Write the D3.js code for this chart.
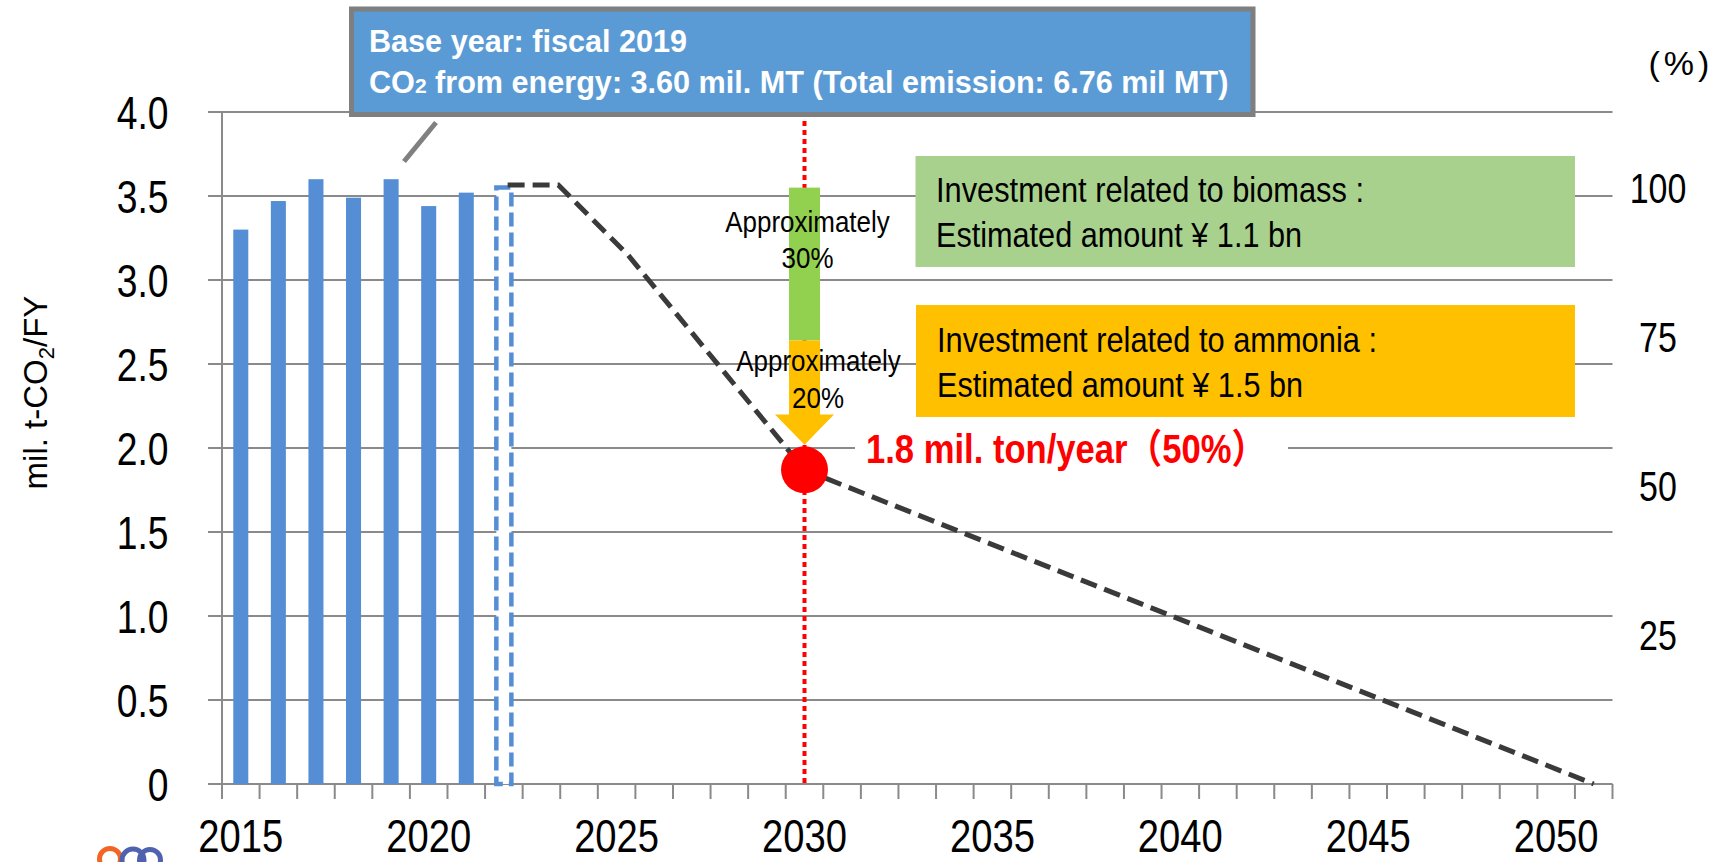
<!DOCTYPE html>
<html>
<head>
<meta charset="utf-8">
<script src="https://cdn.jsdelivr.net/npm/d3@7"></script>
<style>
  html, body { margin: 0; padding: 0; background: #ffffff; }
  svg { display: block; font-family: 'Liberation Sans', Arial, 'Noto Sans CJK JP', sans-serif; }
</style>
</head>
<body>
<script>
// ---------- data ----------
const categories = [2015,2016,2017,2018,2019,2020,2021,2022,2023,2024,2025,2026,2027,2028,2029,2030,
  2031,2032,2033,2034,2035,2036,2037,2038,2039,2040,2041,2042,2043,2044,2045,2046,2047,2048,2049,2050,2051];
const xTickYears = [2015, 2020, 2025, 2030, 2035, 2040, 2045, 2050];
const xTickLabels = ["2015", "2020", "2025", "2030", "2035", "2040", "2045", "2050"];
const yTicks = [0, 0.5, 1.0, 1.5, 2.0, 2.5, 3.0, 3.5, 4.0];
const yTickLabels = ["0", "0.5", "1.0", "1.5", "2.0", "2.5", "3.0", "3.5", "4.0"];
const rightTicks = [25, 50, 75, 100];
const rightTickLabels = ["25", "50", "75", "100"];

const barYears = [2015, 2016, 2017, 2018, 2019, 2020, 2021];
const barValues = [3.30, 3.47, 3.60, 3.49, 3.60, 3.44, 3.52];
const projBarYears = [2022];
const projBarValues = [3.55];

const pathYears = [2022.1, 2023.45, 2025.3, 2030, 2051];
const pathValues = [3.565, 3.565, 3.15, 1.87, 0];

const targetYears = [2030];
const targetValues = [1.87];
const rightAxisFull = 3.55;               // level that equals 100 %
const arrowLevels = [3.55, 2.64, 2.2, 2.02]; // top, green/orange split, head base, tip

// ---------- setup ----------
const W = 1731, H = 862;
const svg = d3.select("body").append("svg").attr("width", W).attr("height", H);
const X0 = 222, X1 = 1612.5, YT = 112, YB = 784;

const xBand = d3.scaleBand().domain(categories).range([X0, X1]).padding(0);
const xYear = d3.scaleLinear().domain([categories[0] - 0.5, categories[categories.length - 1] + 0.5]).range([X0, X1]);
const y = d3.scaleLinear().domain([0, 4]).range([YB, YT]);
const yR = d3.scaleLinear().domain([0, 100]).range([y(0), y(rightAxisFull)]);

function squeeze(sel, k) {
  sel.each(function () {
    const L = this.getComputedTextLength();
    d3.select(this).attr("textLength", L * k).attr("lengthAdjust", "spacingAndGlyphs");
  });
  return sel;
}

const GRID = "#8a8a8a";

// gridlines
svg.append("g").selectAll("line").data(yTicks).join("line")
  .attr("x1", X0 - 14).attr("x2", X1)
  .attr("y1", d => y(d)).attr("y2", d => y(d))
  .attr("stroke", GRID).attr("stroke-width", 2);

// y axis line
svg.append("line").attr("x1", X0).attr("x2", X0).attr("y1", y(4)).attr("y2", y(0))
  .attr("stroke", GRID).attr("stroke-width", 2);

// x ticks at band edges
const edges = categories.map(c => xBand(c)).concat([X1]);
svg.append("g").selectAll("line").data(edges).join("line")
  .attr("x1", d => d).attr("x2", d => d)
  .attr("y1", y(0)).attr("y2", y(0) + 15)
  .attr("stroke", GRID).attr("stroke-width", 2);

// y tick labels
squeeze(svg.append("g").selectAll("text").data(yTicks).join("text")
  .attr("x", 168.5).attr("y", d => y(d) + 16.5)
  .attr("text-anchor", "end").attr("font-size", 46).attr("fill", "#000")
  .text((d, i) => yTickLabels[i]), 0.81);

// x tick labels
squeeze(svg.append("g").selectAll("text").data(xTickYears).join("text")
  .attr("x", d => xBand(d) + xBand.bandwidth() / 2).attr("y", 852)
  .attr("text-anchor", "middle").attr("font-size", 46).attr("fill", "#000")
  .text((d, i) => xTickLabels[i]), 0.83);

// right tick labels
squeeze(svg.append("g").selectAll("text").data(rightTicks).join("text")
  .attr("x", 1658).attr("y", d => yR(d) + 15.5)
  .attr("text-anchor", "middle").attr("font-size", 43).attr("fill", "#000")
  .text((d, i) => rightTickLabels[i]), 0.79);

svg.append("text").attr("x", 1681).attr("y", 75).attr("text-anchor", "middle")
  .attr("font-size", 34).attr("letter-spacing", 4).attr("fill", "#000").text("(%)");

// y axis title
const yt = svg.append("text").attr("transform", "translate(46.5,392.5) rotate(-90)")
  .attr("text-anchor", "middle").attr("font-size", 33).attr("fill", "#000");
yt.append("tspan").text("mil. t-CO");
yt.append("tspan").attr("font-size", 22).attr("dy", 7).text("2");
yt.append("tspan").attr("dy", -7).text("/FY");

// bars
const bw = xBand.bandwidth();
svg.append("g").selectAll("rect").data(barYears).join("rect")
  .attr("x", d => xBand(d) + bw * 0.3).attr("width", bw * 0.4)
  .attr("y", (d, i) => y(barValues[i])).attr("height", (d, i) => y(0) - y(barValues[i]))
  .attr("fill", "#558ED5");

// projected (dashed) bar
svg.append("g").selectAll("rect").data(projBarYears).join("rect")
  .attr("x", d => xBand(d) + bw * 0.3).attr("width", bw * 0.4)
  .attr("y", (d, i) => y(projBarValues[i])).attr("height", (d, i) => y(0) - y(projBarValues[i]))
  .attr("fill", "#fff").attr("stroke", "#558ED5").attr("stroke-width", 4.5)
  .attr("stroke-dasharray", "14,6");

// red dotted target line
svg.append("line").attr("x1", xYear(targetYears[0])).attr("x2", xYear(targetYears[0]))
  .attr("y1", y(4)).attr("y2", y(0))
  .attr("stroke", "#FF0000").attr("stroke-width", 4).attr("stroke-dasharray", "5,4");

// dashed reduction path
const pathPts = pathYears.map((d, i) => [xYear(d), y(pathValues[i])]);
svg.append("path").attr("d", d3.line()(pathPts))
  .attr("fill", "none").attr("stroke", "#3a3a3a").attr("stroke-width", 5)
  .attr("stroke-dasharray", "17,8");

// arrow
const ax = xYear(targetYears[0]);
svg.append("rect").attr("x", ax - 15.5).attr("width", 31)
  .attr("y", y(arrowLevels[0])).attr("height", y(arrowLevels[1]) - y(arrowLevels[0]))
  .attr("fill", "#92D050");
svg.append("path").attr("d", d3.line()([
  [ax - 15.5, y(arrowLevels[1])], [ax + 15.5, y(arrowLevels[1])],
  [ax + 15.5, y(arrowLevels[2])], [ax + 29.5, y(arrowLevels[2])],
  [ax, y(arrowLevels[3])], [ax - 29.5, y(arrowLevels[2])],
  [ax - 15.5, y(arrowLevels[2])]]) + "Z").attr("fill", "#FFC000");

// arrow texts
const approx = svg.append("g").attr("font-size", 30).attr("fill", "#000").attr("text-anchor", "middle");
squeeze(approx.append("text").attr("x", 807.5).attr("y", 231.5).text("Approximately"), 0.865);
squeeze(approx.append("text").attr("x", 807.5).attr("y", 268).text("30%"), 0.865);
squeeze(approx.append("text").attr("x", 818.5).attr("y", 371).text("Approximately"), 0.865);
squeeze(approx.append("text").attr("x", 818).attr("y", 408).text("20%"), 0.865);

// target circle
svg.append("g").selectAll("circle").data(targetYears).join("circle")
  .attr("cx", d => xYear(d)).attr("cy", (d, i) => y(targetValues[i])).attr("r", 23.5)
  .attr("fill", "#FF0000");

// investment boxes
svg.append("rect").attr("x", 915.5).attr("y", 156).attr("width", 659.5).attr("height", 111).attr("fill", "#A9D18E");
svg.append("rect").attr("x", 916).attr("y", 305).attr("width", 659).attr("height", 112).attr("fill", "#FFC000");
const boxText = svg.append("g").attr("font-size", 35).attr("fill", "#000");
squeeze(boxText.append("text").attr("x", 936).attr("y", 201.5).text("Investment related to biomass :"), 0.88);
squeeze(boxText.append("text").attr("x", 936).attr("y", 247).text("Estimated amount ¥ 1.1 bn"), 0.875);
squeeze(boxText.append("text").attr("x", 937).attr("y", 351.5).text("Investment related to ammonia :"), 0.88);
squeeze(boxText.append("text").attr("x", 937).attr("y", 396.5).text("Estimated amount ¥ 1.5 bn"), 0.875);

// red target label
svg.append("rect").attr("x", 855).attr("y", 428).attr("width", 433).attr("height", 46).attr("fill", "#fff");
svg.append("text").attr("x", 866).attr("y", 463.3).attr("font-size", 40).attr("font-weight", "bold")
  .attr("fill", "#FF0000").attr("textLength", 400).attr("lengthAdjust", "spacingAndGlyphs")
  .text("1.8 mil. ton/year（50%）");

// callout
svg.append("line").attr("x1", 436).attr("y1", 122.5).attr("x2", 404).attr("y2", 161.5)
  .attr("stroke", "#808080").attr("stroke-width", 5);
svg.append("rect").attr("x", 351.5).attr("y", 9).attr("width", 901.5).attr("height", 105.5)
  .attr("fill", "#5B9BD5").attr("stroke", "#7F7F7F").attr("stroke-width", 5);
const ct = svg.append("g").attr("font-size", 30.6).attr("font-weight", "bold").attr("fill", "#fff");
ct.append("text").attr("x", 369).attr("y", 51.7).text("Base year: fiscal 2019");
const c2 = ct.append("text").attr("x", 369).attr("y", 92.7);
c2.append("tspan").text("CO");
c2.append("tspan").attr("font-size", 21).text("2");
c2.append("tspan").text(" from energy: 3.60 mil. MT (Total emission: 6.76 mil MT)");

// logo (partially clipped at bottom)
const logo = svg.append("g").attr("fill", "none").attr("stroke-width", 5);
logo.append("circle").attr("cx", 110).attr("cy", 859).attr("r", 10.5).attr("stroke", "#F26522");
logo.append("circle").attr("cx", 133).attr("cy", 860).attr("r", 11).attr("stroke", "#4F62B0");
logo.append("circle").attr("cx", 150).attr("cy", 860).attr("r", 10.5).attr("stroke", "#4F62B0");
</script>
</body>
</html>
